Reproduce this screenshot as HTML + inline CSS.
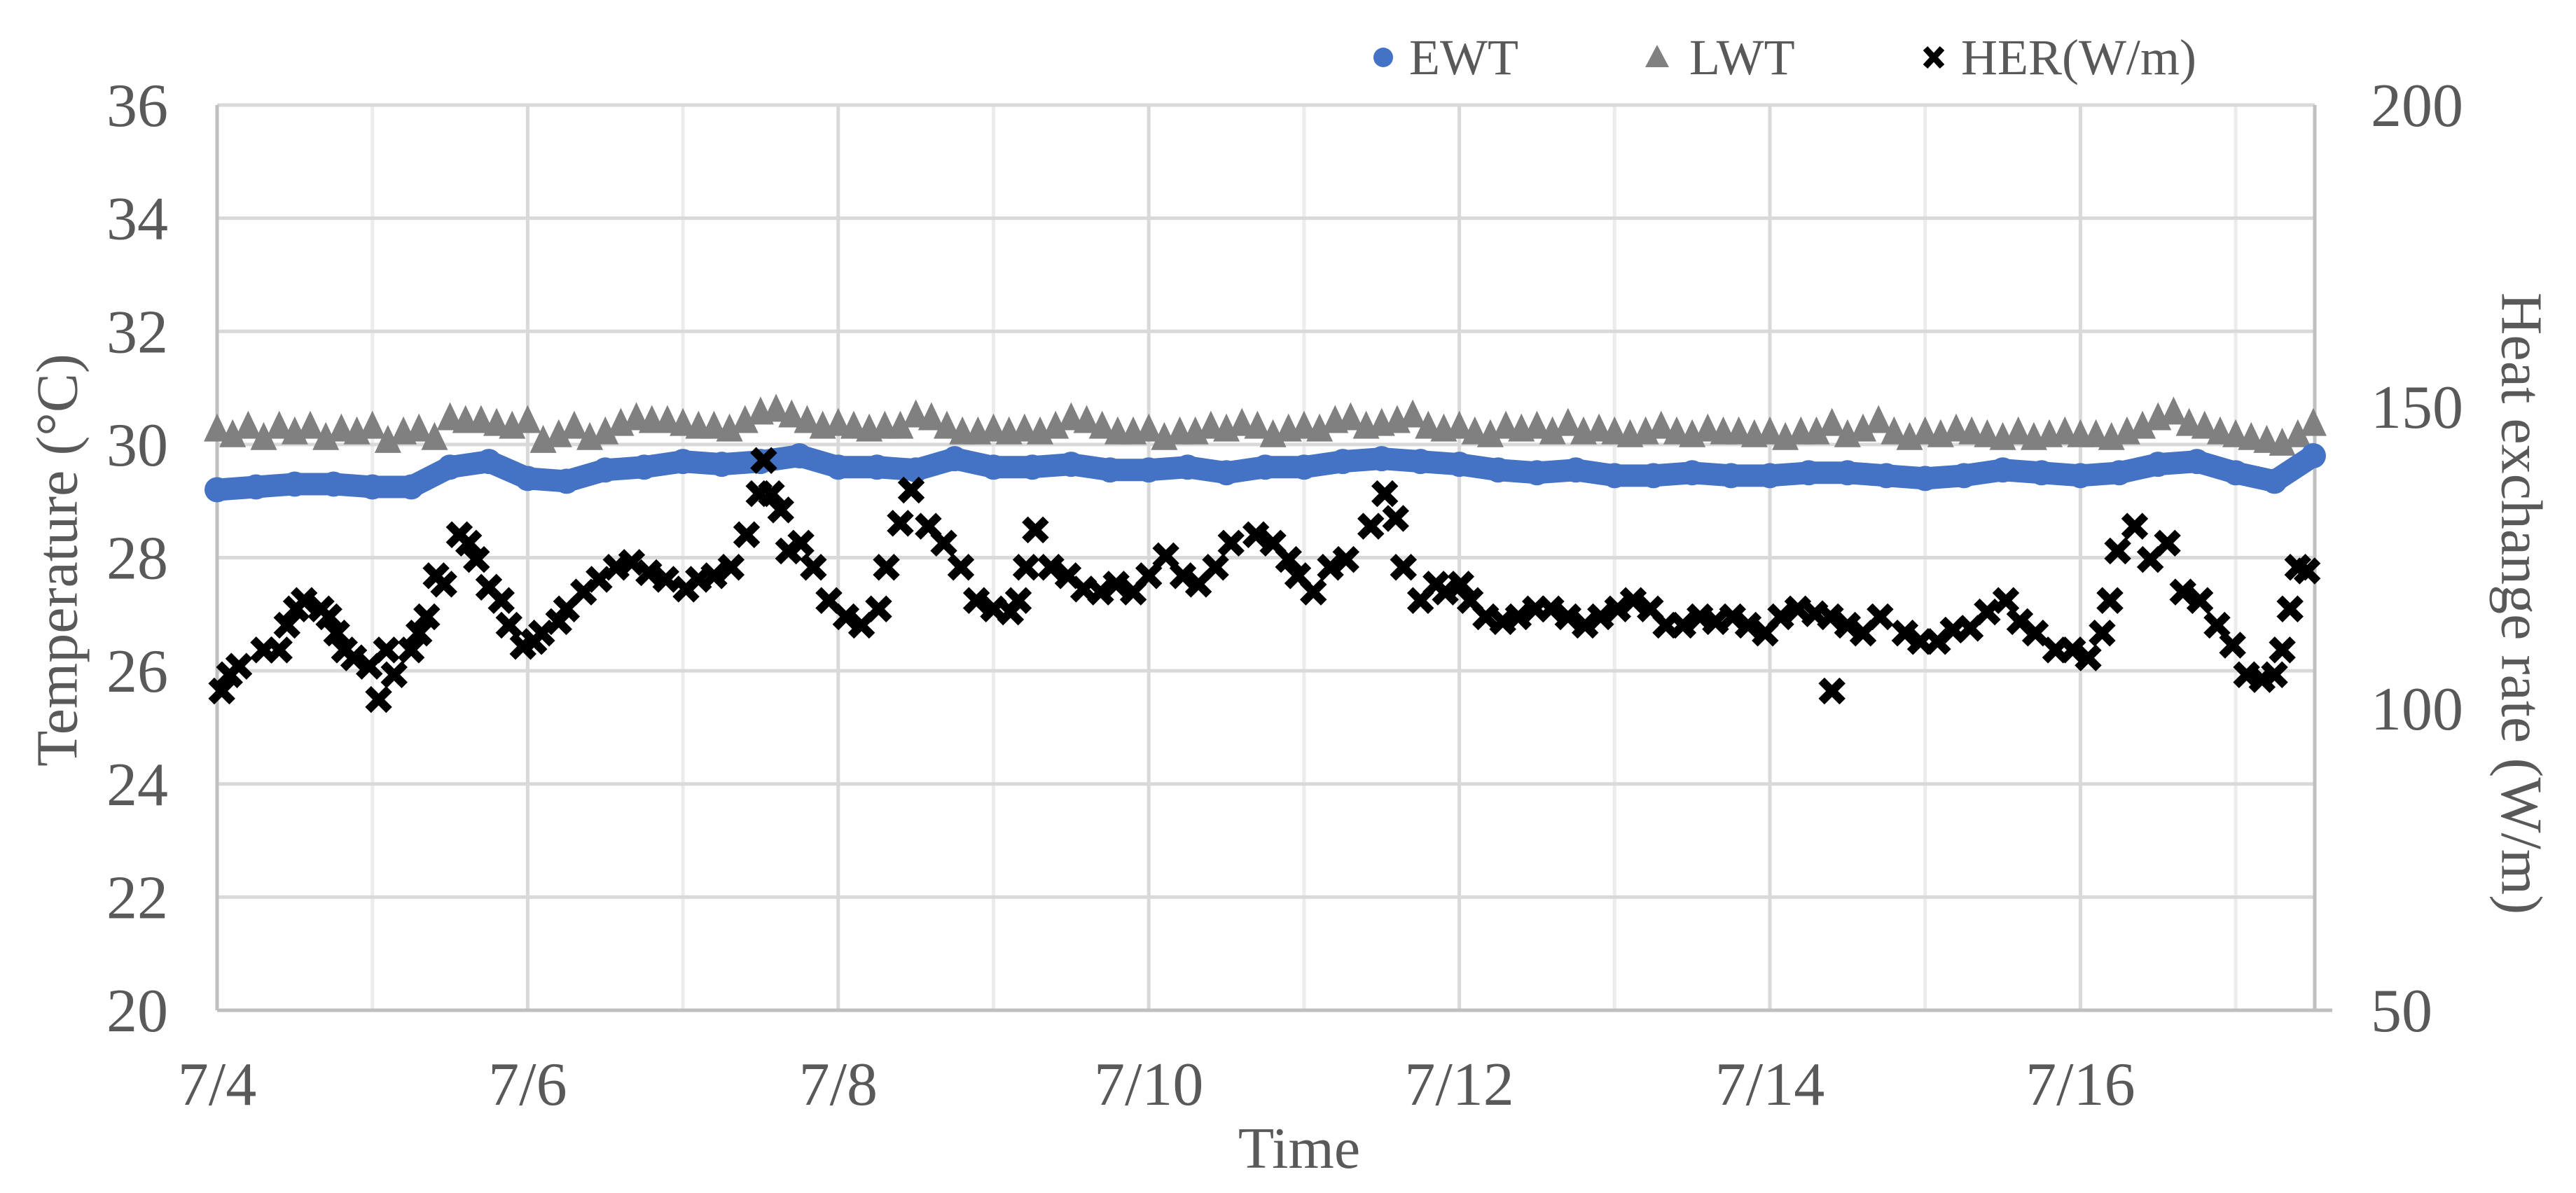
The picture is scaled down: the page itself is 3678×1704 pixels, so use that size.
<!DOCTYPE html>
<html><head><meta charset="utf-8"><style>
html,body{margin:0;padding:0;background:#fff}
svg{display:block}
text{font-family:"Liberation Serif",serif;fill:#595959}
</style></head><body>
<svg id="chart" width="3678" height="1704" viewBox="0 0 3678 1704" xmlns="http://www.w3.org/2000/svg">
<g id="grid"></g>
<g id="axes"></g>
<g id="lwt"></g>
<g id="ewt"></g>
<g id="her"></g>
<g id="legend">
 <g><circle cx="1975" cy="82" r="14" fill="#4472c4"/><text x="2012" y="106" font-size="72">EWT</text></g>
 <g><polygon points="2366,64 2383,96 2349,96" fill="#808080"/><text x="2412" y="106" font-size="72">LWT</text></g>
 <g><path d="M2749,69 L2773,95 M2773,69 L2749,95" stroke="#000" stroke-width="9"/><text x="2800" y="106" font-size="72">HER(W/m)</text></g>
</g>
<text x="1855" y="1668" font-size="84" text-anchor="middle">Time</text>
<text transform="translate(90,800) rotate(-90)" font-size="84" text-anchor="middle" dominant-baseline="middle">Temperature (°C)</text>
<text transform="translate(3592,862) rotate(90)" font-size="84" text-anchor="middle" dominant-baseline="middle">Heat exchange rate (W/m)</text>
</svg>
<script>
const tempTicks=[20,22,24,26,28,30,32,34,36];
const herTicks=[50,100,150,200];
const dateLabels=["7/4","7/6","7/8","7/10","7/12","7/14","7/16"];
const ewtStep=0.25;
const ewtVals=[29.2,29.25,29.3,29.3,29.25,29.25,29.6,29.7,29.4,29.35,29.55,29.6,29.7,29.65,29.7,29.8,29.6,29.6,29.55,29.75,29.6,29.6,29.65,29.55,29.55,29.6,29.5,29.6,29.6,29.7,29.75,29.7,29.65,29.55,29.5,29.55,29.45,29.45,29.5,29.45,29.45,29.5,29.5,29.45,29.4,29.45,29.55,29.5,29.45,29.5,29.65,29.7,29.5,29.35,29.8];
const lwtStep=0.1;
const lwtVals=[30.25,30.15,30.3,30.1,30.3,30.2,30.3,30.1,30.25,30.2,30.3,30.05,30.2,30.25,
30.1,30.45,30.4,30.4,30.35,30.3,30.4,
30.05,30.15,30.3,30.1,30.2,30.35,30.45,30.4,30.4,30.35,
30.3,30.3,30.25,30.4,30.55,30.6,30.5,30.4,30.3,30.35,
30.3,30.25,30.3,30.3,30.5,30.45,30.3,30.2,30.2,30.25,
30.2,30.25,30.2,30.3,30.45,30.4,30.3,30.2,30.2,30.25,
30.1,30.2,30.2,30.3,30.25,30.35,30.3,30.15,30.25,30.3,
30.25,30.4,30.45,30.3,30.35,30.4,30.5,30.3,30.25,30.3,
30.2,30.15,30.3,30.25,30.3,30.2,30.35,30.2,30.25,30.2,
30.15,30.2,30.3,30.2,30.15,30.25,30.2,30.2,30.15,30.2,
30.1,30.2,30.2,30.35,30.15,30.25,30.4,30.2,30.1,30.2,
30.15,30.25,30.2,30.15,30.1,30.2,30.1,30.15,30.2,30.15,
30.15,30.1,30.2,30.3,30.45,30.55,30.35,30.3,30.2,30.15,
30.1,30.05,30.0,30.15,30.35];
const herDays=[0.03,0.08,0.14,0.30,0.40,0.45,0.51,0.56,0.67,0.72,0.77,0.82,0.88,0.98,1.04,1.09,1.14,1.25,1.30,1.35,1.41,1.46,1.56,1.62,1.67,1.75,1.83,1.88,1.97,2.04,2.09,2.20,2.25,2.36,2.46,2.57,2.67,2.78,2.89,3.02,3.10,3.20,3.31,3.41,3.49,3.52,3.57,3.63,3.68,3.76,3.84,3.94,4.05,4.15,4.26,4.31,4.40,4.47,4.58,4.68,4.79,4.89,5.00,5.11,5.16,5.21,5.27,5.37,5.48,5.58,5.69,5.79,5.90,6.00,6.11,6.22,6.32,6.43,6.53,6.69,6.80,6.90,6.96,7.06,7.17,7.27,7.43,7.52,7.59,7.64,7.75,7.85,7.91,8.01,8.07,8.17,8.28,8.38,8.49,8.59,8.70,8.81,8.91,9.02,9.12,9.23,9.33,9.44,9.55,9.65,9.76,9.86,9.97,10.07,10.18,10.29,10.39,10.50,10.60,10.71,10.87,10.97,11.08,11.18,11.29,11.40,11.52,11.61,11.71,11.84,11.95,12.05,12.14,12.19,12.24,12.35,12.45,12.56,12.66,12.77,12.88,12.98,13.07,13.17,13.25,13.30,13.35,13.40,13.46,10.40];
const herVals=[102.9,105.6,107.0,109.7,109.7,113.8,116.5,117.9,116.5,115.2,112.5,109.7,108.4,107.0,101.5,109.7,105.6,109.7,112.5,115.2,122.0,120.6,128.8,127.4,124.7,120.1,117.9,113.8,110.3,111.1,112.5,114.4,116.5,119.3,121.4,123.4,124.2,122.5,121.4,119.8,121.4,122.0,123.4,128.8,135.6,141.1,135.6,132.9,126.1,127.4,123.4,117.9,115.2,113.8,116.5,123.4,130.7,136.2,130.2,127.4,123.4,117.9,116.5,116.0,117.9,123.4,129.6,123.4,122.0,119.8,119.3,120.6,119.3,122.0,125.3,122.0,120.6,123.4,127.4,128.8,127.4,124.7,122.0,119.3,123.4,124.7,130.2,135.6,131.5,123.4,117.9,120.6,119.3,120.6,117.9,115.2,114.4,115.2,116.5,116.5,115.2,113.8,115.2,116.5,117.9,116.5,113.8,113.8,115.2,114.4,115.2,113.8,112.5,115.2,116.5,115.7,115.2,113.8,112.5,115.2,112.5,111.1,111.1,113.0,113.3,116.0,117.9,114.4,112.5,109.7,109.7,108.4,112.5,117.9,126.1,130.2,124.7,127.4,119.3,117.9,113.8,110.5,105.6,104.8,105.6,109.7,116.5,123.4,122.8,102.9];

const NS="http://www.w3.org/2000/svg";
const L=310,R=3305,T=150,B=1443,DAY=221.7;
const xS=d=>L+d*DAY;
const yT=t=>B-(t-20)/16*(B-T);
const yH=h=>B-(h-50)/150*(B-T);
function mk(tag,attrs,parent){const e=document.createElementNS(NS,tag);for(const k in attrs)e.setAttribute(k,attrs[k]);parent.appendChild(e);return e;}
const grid=document.getElementById('grid'),axes=document.getElementById('axes');
for(let d=1;d*DAY+L<R-5;d++){
 const g=mk('line',{x1:xS(d),x2:xS(d),y1:T,y2:B,stroke:d%2?'#ececec':'#d9d9d9','stroke-width':5},grid);
 
 
}
tempTicks.forEach(t=>{
 const g=mk('line',{x1:L,x2:R,y1:yT(t),y2:yT(t),stroke:t===20?'#bfbfbf':'#d9d9d9','stroke-width':5},grid);
 
 
 const tx=mk('text',{x:240,y:yT(t)+30,'font-size':88,'text-anchor':'end'},axes);
 tx.textContent=t;
 
 
});
herTicks.forEach(h=>{
 const tx=mk('text',{x:3385,y:yH(h)+30,'font-size':88},axes);
 tx.textContent=h;
 
 
});
dateLabels.forEach((s,i)=>{
 const tx=mk('text',{x:xS(i*2),y:1578,'font-size':88,'text-anchor':'middle'},axes);
 tx.textContent=s;
 
 
});
[[L,T,L,B],[R,T,R,B],[L,B,R+25,B]].forEach(a=>{
 const ln=mk('line',{x1:a[0],y1:a[1],x2:a[2],y2:a[3],stroke:'#bfbfbf','stroke-width':5},axes);
 
 
});
const lwt=document.getElementById('lwt');
lwtVals.forEach((v,i)=>{
 const x=xS(i*lwtStep),y=yT(v);
 const p=mk('polygon',{points:`${x},${y-24} ${x+19},${y+16} ${x-19},${y+16}`,fill:'#808080'},lwt);
 
 
});
const ewt=document.getElementById('ewt');
const pl=mk('polyline',{points:ewtVals.map((v,i)=>xS(i*ewtStep)+','+yT(v)).join(' '),fill:'none',stroke:'#4472c4','stroke-width':32,'stroke-linejoin':'round','stroke-linecap':'round'},ewt);


ewtVals.forEach((v,i)=>{
 const c=mk('circle',{cx:xS(i*ewtStep),cy:yT(v),r:18,fill:'#4472c4'},ewt);
 
 
});
const her=document.getElementById('her');
const n=Math.min(herDays.length,herVals.length);
for(let i=0;i<n;i++){
 const x=xS(herDays[i]),y=yH(herVals[i]),s=15;
 const p=mk('path',{d:`M${x-s},${y-s}L${x+s},${y+s}M${x+s},${y-s}L${x-s},${y+s}`,stroke:'#000','stroke-width':12},her);
 
 
}
</script>
</body></html>
